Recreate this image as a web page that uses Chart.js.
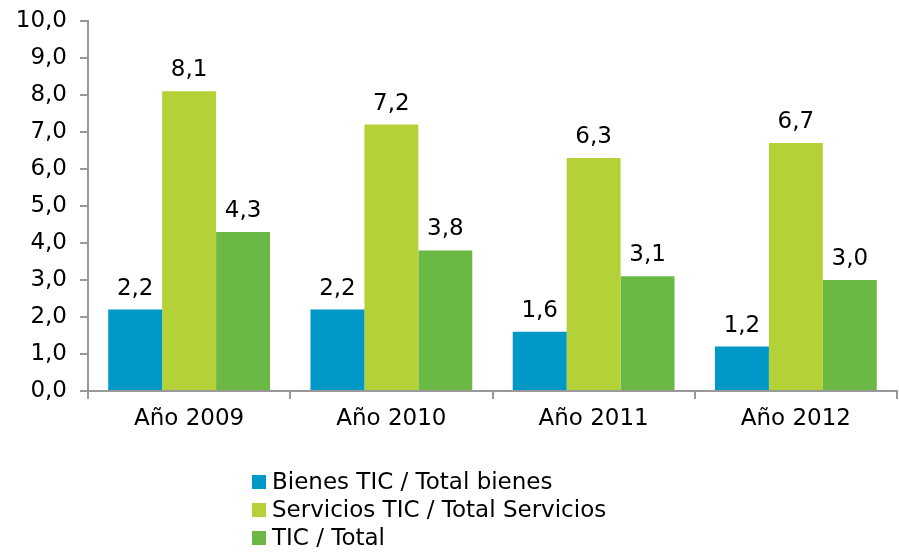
<!DOCTYPE html>
<html>
<head>
<meta charset="utf-8">
<script src="https://cdn.jsdelivr.net/npm/chart.js@4/dist/chart.umd.min.js"></script>
<style>
  html, body { margin: 0; padding: 0; background: #fff; }
  #wrap { width: 899px; height: 552px; }
</style>
</head>
<body>
<div id="wrap"><canvas id="myGraphic" width="899" height="552"></canvas></div>
<script>
// Datos del gráfico
var categorias = ['Año 2009', 'Año 2010', 'Año 2011', 'Año 2012'];
var bienesTic = [2.2, 2.2, 1.6, 1.2];
var serviciosTic = [8.1, 7.2, 6.3, 6.7];
var ticTotal = [4.3, 3.8, 3.1, 3.0];
var series = ['Bienes TIC / Total bienes', 'Servicios TIC / Total Servicios', 'TIC / Total'];

var fuente = 'Verdana, "DejaVu Sans", sans-serif';

var fmt = function (v) {
    return Number(v).toFixed(1).replace('.', ',');
};

// Etiquetas encima de cada barra
var etiquetas = {
    id: 'etiquetas',
    afterDatasetsDraw: function (chart) {
        var ctx = chart.ctx;
        ctx.save();
        ctx.font = '23px ' + fuente;
        ctx.fillStyle = '#000';
        ctx.textAlign = 'center';
        ctx.textBaseline = 'alphabetic';
        chart.data.datasets.forEach(function (ds, i) {
            chart.getDatasetMeta(i).data.forEach(function (bar, j) {
                ctx.fillText(fmt(ds.data[j]), bar.x, bar.y - 15);
            });
        });
        ctx.restore();
    }
};

// Leyenda vertical debajo del gráfico
var leyenda = {
    id: 'leyenda',
    afterDraw: function (chart) {
        var ctx = chart.ctx;
        ctx.save();
        ctx.font = '23px ' + fuente;
        ctx.textBaseline = 'middle';
        chart.data.datasets.forEach(function (ds, i) {
            var y = 482 + i * 28;
            ctx.fillStyle = ds.backgroundColor;
            ctx.fillRect(252, y - 7, 14, 14);
            ctx.fillStyle = '#000';
            ctx.fillText(ds.label, 272, y + 1);
        });
        ctx.restore();
    }
};

var myChart = new Chart('myGraphic', {
    type: 'bar',
    data: {
        labels: categorias,
        datasets: [{
            label: series[0],
            backgroundColor: 'rgb(0, 152, 198)',
            data: bienesTic
        }, {
            label: series[1],
            backgroundColor: 'rgb(180, 210, 55)',
            data: serviciosTic
        }, {
            label: series[2],
            backgroundColor: 'rgb(107, 184, 69)',
            data: ticTotal
        }]
    },
    options: {
        responsive: false,
        animation: false,
        categoryPercentage: 0.8,
        barPercentage: 1.0,
        layout: {
            padding: { top: 21, right: 2, bottom: 116, left: 0 }
        },
        scales: {
            x: {
                grid: {
                    drawOnChartArea: false,
                    drawTicks: true,
                    tickLength: 8,
                    color: '#999',
                    lineWidth: 2
                },
                border: { color: '#999', width: 2 },
                ticks: {
                    color: '#000',
                    padding: 6,
                    font: { size: 23, family: fuente }
                },
                afterFit: function (scale) {
                    scale.height = 45;
                    scale.paddingLeft = 0;
                    scale.paddingRight = 0;
                }
            },
            y: {
                min: 0,
                max: 10,
                grid: {
                    drawOnChartArea: false,
                    drawTicks: true,
                    tickLength: 8,
                    color: '#999',
                    lineWidth: 2
                },
                border: { color: '#999', width: 2 },
                ticks: {
                    stepSize: 1,
                    color: '#000',
                    padding: 13,
                    font: { size: 23, family: fuente },
                    callback: function (v) { return fmt(v); }
                },
                afterFit: function (scale) {
                    scale.width = 88;
                    scale.paddingTop = 0;
                    scale.paddingBottom = 0;
                }
            }
        },
        plugins: {
            legend: { display: false },
            tooltip: { enabled: false },
            title: { display: false }
        }
    },
    plugins: [etiquetas, leyenda]
});
</script>
</body>
</html>
